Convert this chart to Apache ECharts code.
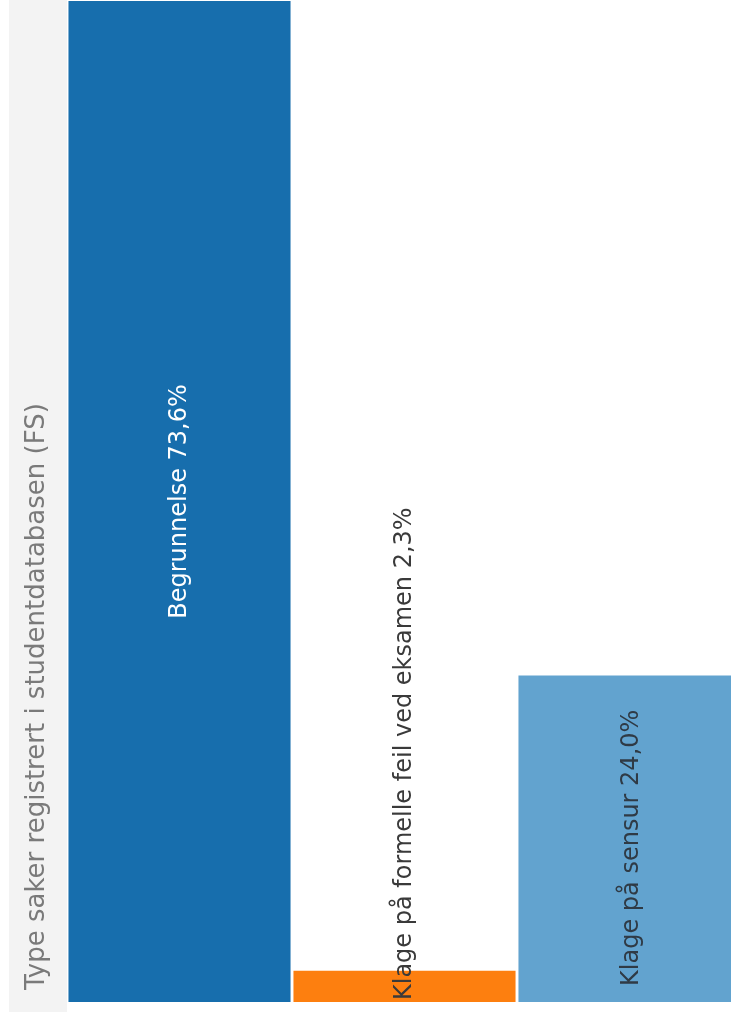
<!DOCTYPE html>
<html>
<head>
<meta charset="utf-8">
<script src="https://cdn.jsdelivr.net/npm/echarts@6/dist/echarts.min.js"></script>
<style>
    html, body { margin: 0; padding: 0; background: #ffffff; }
    #chart { width: 731px; height: 1019px; }
</style>
</head>
<body>
<div id="chart"></div>
<script>
    // Type saker registrert i studentdatabasen (FS)
    const categories = ['Begrunnelse', 'Klage på formelle feil ved eksamen', 'Klage på sensur'];
    const shares = [73.6, 2.3, 24.0];
    const barColors = ['#176ead', '#fd7f0f', '#62a3cf'];
    const axisTitle = 'Type saker registrert i studentdatabasen (FS)';

    const fontFamily = '"DejaVu Sans", "Noto Sans", sans-serif';

    const chart = echarts.init(document.getElementById('chart'));

    // etiketter per stolpe: den lille oransje starter nederst
    const labelFor = (i) => {
        if (i === 0) return { position: 'inside', color: '#ffffff' };
        if (i === 1) return { position: 'insideBottom', align: 'left', verticalAlign: 'middle', distance: 2, color: '#3a3a3a' };
        return { position: 'inside', color: '#2f3a45', offset: [-9, 2] };
    };

    chart.setOption({
        animation: false,
        grid: { left: 67, width: 675, top: 1, bottom: 17, outerBoundsMode: 'none' },
        graphic: [
            {
                type: 'rect',
                shape: { x: 9, y: 0, width: 58, height: 1012 },
                style: { fill: '#f3f3f3' },
                z: -10
            },
            {
                type: 'text',
                x: 37,
                y: 990,
                rotation: Math.PI / 2,
                style: {
                    text: axisTitle,
                    fill: '#7a7a7a',
                    fontSize: 26,
                    fontFamily: fontFamily,
                    align: 'left',
                    verticalAlign: 'middle'
                }
            }
        ],
        xAxis: {
            type: 'category',
            data: categories,
            show: false
        },
        yAxis: {
            type: 'value',
            min: 0,
            max: 73.6,
            show: false
        },
        series: [{
            type: 'bar',
            barCategoryGap: '1.3%',
            data: shares.map((v, i) => ({
                value: v,
                itemStyle: { color: barColors[i] },
                label: labelFor(i)
            })),
            label: {
                show: true,
                rotate: 90,
                fontSize: 24,
                fontFamily: fontFamily,
                formatter: (p) => p.name + ' ' + p.value.toFixed(1).replace('.', ',') + '%'
            }
        }]
    });
</script>
</body>
</html>
